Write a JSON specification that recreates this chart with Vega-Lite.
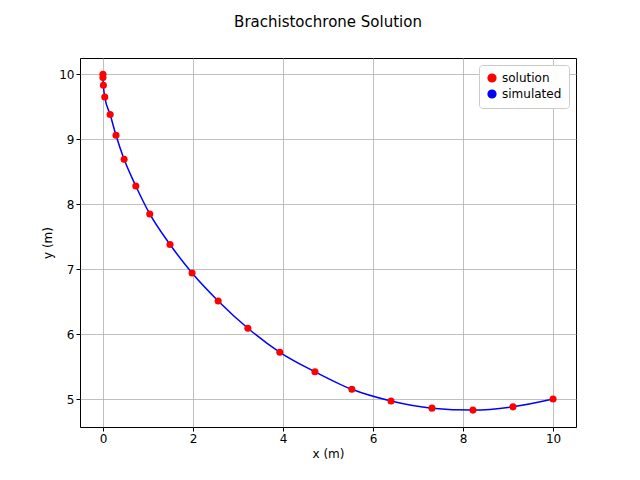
{
  "$schema": "https://vega.github.io/schema/vega-lite/v6.json",
  "width": 496,
  "height": 369,
  "autosize": "none",
  "padding": {"left": 80, "top": 58, "right": 64, "bottom": 53},
  "background": "white",
  "title": {"text": "Brachistochrone Solution", "fontSize": 15, "font": "DejaVu Sans", "fontWeight": "normal", "offset": 28},
  "data": {
    "values": [
      {"x": 0, "y": 10},
      {"x": 0.0, "y": 9.95},
      {"x": 0.01, "y": 9.83},
      {"x": 0.04, "y": 9.65},
      {"x": 0.16, "y": 9.38},
      {"x": 0.29, "y": 9.06},
      {"x": 0.47, "y": 8.69},
      {"x": 0.73, "y": 8.28},
      {"x": 1.04, "y": 7.85},
      {"x": 1.49, "y": 7.38},
      {"x": 1.98, "y": 6.94},
      {"x": 2.56, "y": 6.51},
      {"x": 3.22, "y": 6.09},
      {"x": 3.93, "y": 5.72},
      {"x": 4.71, "y": 5.42},
      {"x": 5.53, "y": 5.15},
      {"x": 6.4, "y": 4.97},
      {"x": 7.31, "y": 4.86},
      {"x": 8.22, "y": 4.83},
      {"x": 9.11, "y": 4.88},
      {"x": 10, "y": 5.0}
    ]
  },
  "encoding": {
    "x": {"field": "x", "type": "quantitative", "title": "x (m)",
      "scale": {"domain": [-0.51, 10.51], "nice": false, "zero": false},
      "axis": {"values": [0, 2, 4, 6, 8, 10], "grid": true}},
    "y": {"field": "y", "type": "quantitative", "title": "y (m)",
      "scale": {"domain": [4.57, 10.25], "nice": false, "zero": false},
      "axis": {"values": [5, 6, 7, 8, 9, 10], "grid": true}}
  },
  "layer": [
    {
      "mark": {"type": "line", "strokeWidth": 1.5, "interpolate": "monotone"},
      "encoding": {"color": {"datum": "simulated", "scale": {"domain": ["solution", "simulated"], "range": ["red", "blue"]}}}
    },
    {
      "mark": {"type": "circle", "size": 50, "opacity": 1},
      "encoding": {"color": {"datum": "solution"}}
    }
  ],
  "resolve": {"scale": {"color": "shared"}},
  "config": {
    "font": "DejaVu Sans",
    "view": {"stroke": "black", "strokeWidth": 1},
    "axis": {
      "gridColor": "#b0b0b0", "gridOpacity": 1, "gridWidth": 0.8,
      "domain": false, "tickColor": "black", "tickSize": 4,
      "labelFontSize": 12, "labelColor": "black", "titleFontSize": 12,
      "titleFontWeight": "normal", "titleColor": "black", "labelFlush": false
    },
    "legend": {
      "orient": "top-right", "title": null, "labelFontSize": 12,
      "strokeColor": "#cccccc", "fillColor": "white", "padding": 7,
      "cornerRadius": 3, "offset": 7, "symbolSize": 60, "labelColor": "black"
    }
  }
}
